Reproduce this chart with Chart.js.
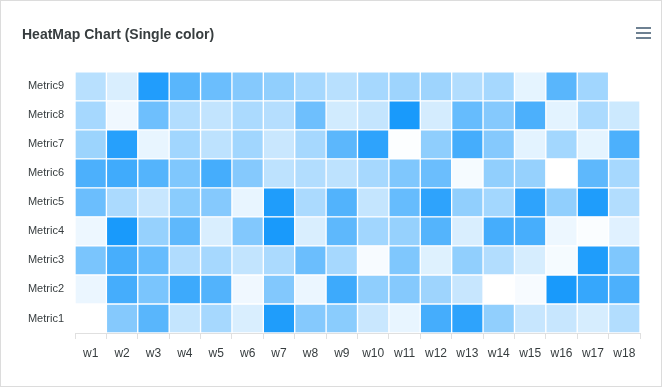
<!DOCTYPE html>
<html>
<head>
<meta charset="utf-8">
<script src="https://cdn.jsdelivr.net/npm/chart.js@4"></script>
<style>
  html, body { margin: 0; padding: 0; background: #fff; }
  #wrap { position: relative; width: 662px; height: 387px; }
  #c { position: absolute; left: 0; top: 0; }
  #frame { position: absolute; left: 0; top: 0; width: 662px; height: 387px; box-sizing: border-box; border: 1px solid #dcdcdc; pointer-events: none; }
  #menu { position: absolute; left: 636px; top: 27px; width: 15px; height: 12px; }
  #menu span { display: block; height: 2px; background: #6e8192; margin-bottom: 3px; }
</style>
</head>
<body>
<div id="wrap">
  <canvas id="c" width="662" height="387"></canvas>
  <div id="frame"></div>
  <div id="menu"><span></span><span></span><span></span></div>
</div>
<script>
const weeks = ["w1","w2","w3","w4","w5","w6","w7","w8","w9","w10","w11","w12","w13","w14","w15","w16","w17","w18"];
const metrics = ["Metric1","Metric2","Metric3","Metric4","Metric5","Metric6","Metric7","Metric8","Metric9"];

const metric1 = [0, 48, 65, 23, 35, 15, 88, 48, 46, 21, 9, 73, 82, 43, 22, 22, 16, 30];
const metric2 = [8, 73, 52, 76, 68, 6, 49, 8, 76, 44, 48, 38, 22, 0, 3, 90, 79, 70];
const metric3 = [52, 72, 60, 31, 35, 24, 33, 58, 35, 3, 50, 13, 43, 30, 16, 4, 88, 50];
const metric4 = [7, 90, 41, 63, 15, 49, 90, 15, 63, 37, 41, 67, 15, 73, 72, 7, 2, 12];
const metric5 = [58, 33, 22, 46, 48, 9, 88, 33, 68, 23, 60, 82, 43, 36, 82, 43, 88, 30];
const metric6 = [70, 75, 67, 50, 73, 48, 26, 30, 26, 35, 50, 58, 4, 43, 41, 0, 63, 35];
const metric7 = [39, 85, 9, 37, 26, 37, 21, 35, 64, 82, 1, 44, 73, 48, 11, 36, 10, 70];
const metric8 = [35, 6, 57, 30, 24, 33, 29, 57, 18, 23, 90, 17, 60, 48, 70, 11, 33, 20];
const metric9 = [28, 15, 87, 65, 58, 48, 43, 35, 28, 35, 38, 38, 30, 35, 10, 65, 37, 0];

const rows = [metric1, metric2, metric3, metric4, metric5, metric6, metric7, metric8, metric9];
const baseRGB = "0,143,251";

const datasets = rows.map((vals, r) => ({
  label: metrics[r],
  data: vals.map(() => [r, r + 1]),
  backgroundColor: vals.map(v => `rgba(${baseRGB},${(v / 100).toFixed(3)})`),
  borderColor: "#ffffff",
  borderWidth: 1,
  borderSkipped: false,
  barPercentage: 1,
  categoryPercentage: 1
}));

new Chart(document.getElementById("c"), {
  type: "bar",
  data: { labels: weeks, datasets },
  options: {
    responsive: false,
    animation: false,
    layout: { padding: { left: 22, right: 22, top: 0, bottom: 0 } },
    plugins: {
      legend: { display: false },
      tooltip: { enabled: false },
      title: {
        display: true,
        text: "HeatMap Chart (Single color)",
        align: "start",
        color: "#373d3f",
        font: { family: "Liberation Sans, Arial, sans-serif", size: 14, weight: "bold" },
        padding: { top: 27, bottom: 28 }
      }
    },
    scales: {
      x: {
        type: "category",
        stacked: true,
        offset: true,
        grid: { display: true, drawOnChartArea: false, drawTicks: true, tickLength: 6, color: "#e0e0e0", offset: true },
        border: { display: true, color: "#e0e0e0" },
        ticks: { color: "#373d3f", padding: 7, maxRotation: 0, autoSkip: false,
                 font: { family: "Liberation Sans, Arial, sans-serif", size: 12 } },
        afterFit: (axis) => { axis.height = 54; }
      },
      y: {
        type: "linear",
        stacked: false,
        min: 0,
        max: 9,
        grid: { display: false, drawTicks: false },
        border: { display: false },
        afterBuildTicks: (axis) => { axis.ticks = metrics.map((m, i) => ({ value: i + 0.5 })); },
        ticks: { color: "#373d3f", padding: 11, autoSkip: false,
                 font: { family: "Liberation Sans, Arial, sans-serif", size: 11 },
                 callback: (v) => metrics[Math.floor(v)] },
        afterFit: (axis) => { axis.width = 53; }
      }
    }
  }
});
</script>
</body>
</html>
